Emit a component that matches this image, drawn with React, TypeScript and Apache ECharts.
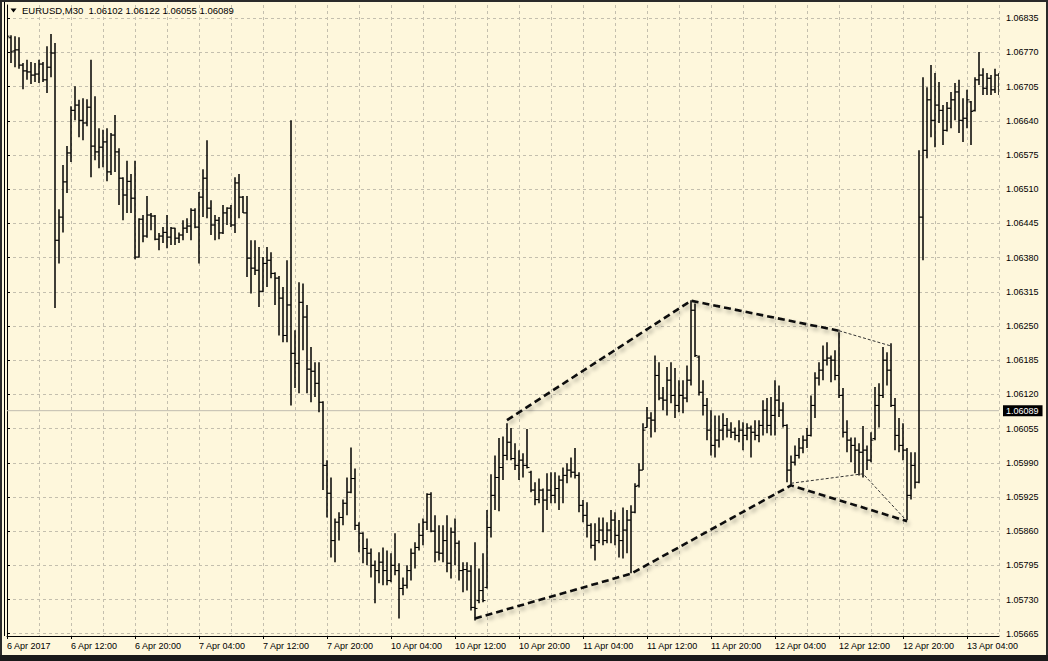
import React, { useEffect, useRef } from "react";
import * as echarts from "echarts";

// ---- data (EURUSD M30) ----
const opens = [
  1.06756, 1.06798, 1.06773, 1.06775, 1.06746, 1.06735, 1.06733, 1.06727, 1.06729, 1.06748,
  1.06718, 1.06742, 1.06769, 1.06413, 1.06457, 1.06524, 1.06579, 1.06660, 1.06670, 1.06641,
  1.06636, 1.06666, 1.06592, 1.06581, 1.06590, 1.06600, 1.06543, 1.06613, 1.06581, 1.06531,
  1.06499, 1.06525, 1.06493, 1.06381, 1.06453, 1.06421, 1.06461, 1.06459, 1.06415, 1.06421,
  1.06428, 1.06419, 1.06436, 1.06417, 1.06423, 1.06436, 1.06440, 1.06470, 1.06438, 1.06495,
  1.06531, 1.06474, 1.06442, 1.06451, 1.06427, 1.06465, 1.06474, 1.06442, 1.06522, 1.06495,
  1.06465, 1.06379, 1.06360, 1.06356, 1.06316, 1.06369, 1.06375, 1.06350, 1.06341, 1.06303,
  1.06232, 1.06290, 1.06198, 1.06179, 1.06295, 1.06267, 1.06168, 1.06164, 1.06141, 1.06105,
  1.05985, 1.05932, 1.05842, 1.05877, 1.05886, 1.05913, 1.05934, 1.05960, 1.05871, 1.05856,
  1.05827, 1.05818, 1.05795, 1.05785, 1.05801, 1.05785, 1.05766, 1.05795, 1.05785, 1.05751,
  1.05757, 1.05785, 1.05818, 1.05829, 1.05852, 1.05877, 1.05930, 1.05860, 1.05820, 1.05818,
  1.05842, 1.05799, 1.05858, 1.05837, 1.05785, 1.05787, 1.05784, 1.05715, 1.05728, 1.05747,
  1.05753, 1.05867, 1.05928, 1.05962, 1.05981, 1.06004, 1.06029, 1.05998, 1.05985, 1.05995,
  1.05985, 1.05972, 1.05938, 1.05920, 1.05938, 1.05919, 1.05938, 1.05928, 1.05941, 1.05957,
  1.05966, 1.05976, 1.05972, 1.05966, 1.05909, 1.05890, 1.05871, 1.05833, 1.05842, 1.05862,
  1.05842, 1.05862, 1.05881, 1.05852, 1.05842, 1.05862, 1.05881, 1.05896, 1.05947, 1.05976,
  1.06057, 1.06075, 1.06071, 1.06156, 1.06113, 1.06109, 1.06147, 1.06118, 1.06099, 1.06118,
  1.06113, 1.06147, 1.06280, 1.06191, 1.06124, 1.06099, 1.06052, 1.06023, 1.06033, 1.06052,
  1.06061, 1.06052, 1.06048, 1.06042, 1.06052, 1.06042, 1.06056, 1.06048, 1.06042, 1.06061,
  1.06090, 1.06061, 1.06080, 1.06109, 1.06090, 1.06061, 1.05976, 1.05991, 1.06004, 1.06018,
  1.06033, 1.06042, 1.06099, 1.06151, 1.06166, 1.06185, 1.06189, 1.06185, 1.06156, 1.06118,
  1.06048, 1.06033, 1.06023, 1.06014, 1.06010, 1.06014, 1.05995, 1.06036, 1.06099, 1.06118,
  1.06185, 1.06166, 1.06099, 1.06042, 1.06023, 1.06014, 1.05928, 1.05985, 1.05953, 1.06457,
  1.06584, 1.06680, 1.06641, 1.06670, 1.06660, 1.06622, 1.06664, 1.06680, 1.06695, 1.06641,
  1.06645, 1.06676, 1.06660, 1.06718, 1.06727, 1.06702, 1.06721, 1.06699, 1.06727,
];
const highs = [
  1.06803, 1.06803, 1.06801, 1.06799, 1.06750, 1.06756, 1.06752, 1.06750, 1.06756, 1.06752,
  1.06782, 1.06805, 1.06788, 1.06472, 1.06556, 1.06592, 1.06668, 1.06706, 1.06680, 1.06683,
  1.06681, 1.06756, 1.06687, 1.06626, 1.06623, 1.06626, 1.06617, 1.06651, 1.06588, 1.06533,
  1.06564, 1.06539, 1.06564, 1.06455, 1.06461, 1.06497, 1.06465, 1.06461, 1.06427, 1.06438,
  1.06461, 1.06438, 1.06437, 1.06428, 1.06451, 1.06455, 1.06474, 1.06474, 1.06505, 1.06548,
  1.06603, 1.06489, 1.06461, 1.06457, 1.06480, 1.06476, 1.06480, 1.06533, 1.06539, 1.06497,
  1.06497, 1.06413, 1.06413, 1.06400, 1.06381, 1.06400, 1.06390, 1.06352, 1.06345, 1.06324,
  1.06375, 1.06641, 1.06242, 1.06333, 1.06331, 1.06290, 1.06210, 1.06181, 1.06181, 1.06107,
  1.05995, 1.05962, 1.05884, 1.05896, 1.05920, 1.05962, 1.06019, 1.05979, 1.05877, 1.05858,
  1.05846, 1.05827, 1.05804, 1.05820, 1.05829, 1.05823, 1.05818, 1.05856, 1.05799, 1.05772,
  1.05795, 1.05827, 1.05839, 1.05875, 1.05884, 1.05932, 1.05934, 1.05890, 1.05871, 1.05871,
  1.05890, 1.05867, 1.05884, 1.05842, 1.05801, 1.05801, 1.05795, 1.05839, 1.05789, 1.05818,
  1.05900, 1.05968, 1.06004, 1.06037, 1.06040, 1.06065, 1.06056, 1.06027, 1.06014, 1.06008,
  1.06054, 1.05975, 1.05953, 1.05960, 1.05941, 1.05970, 1.05972, 1.05972, 1.05966, 1.05981,
  1.05989, 1.06000, 1.06018, 1.05972, 1.05919, 1.05915, 1.05875, 1.05875, 1.05886, 1.05886,
  1.05877, 1.05900, 1.05896, 1.05881, 1.05905, 1.05900, 1.05909, 1.05951, 1.05989, 1.06065,
  1.06096, 1.06086, 1.06194, 1.06181, 1.06134, 1.06172, 1.06181, 1.06170, 1.06147, 1.06147,
  1.06175, 1.06299, 1.06293, 1.06194, 1.06147, 1.06113, 1.06090, 1.06080, 1.06080, 1.06084,
  1.06075, 1.06067, 1.06057, 1.06071, 1.06067, 1.06065, 1.06061, 1.06071, 1.06071, 1.06109,
  1.06113, 1.06115, 1.06147, 1.06137, 1.06105, 1.06063, 1.06004, 1.06023, 1.06037, 1.06042,
  1.06056, 1.06118, 1.06162, 1.06181, 1.06213, 1.06219, 1.06194, 1.06204, 1.06238, 1.06132,
  1.06071, 1.06038, 1.06038, 1.06027, 1.06060, 1.06023, 1.06048, 1.06134, 1.06141, 1.06210,
  1.06200, 1.06217, 1.06113, 1.06075, 1.06065, 1.06018, 1.06010, 1.06010, 1.06584, 1.06723,
  1.06704, 1.06746, 1.06731, 1.06714, 1.06670, 1.06676, 1.06695, 1.06712, 1.06718, 1.06683,
  1.06699, 1.06678, 1.06723, 1.06771, 1.06740, 1.06731, 1.06727, 1.06739, 1.06731,
];
const lows = [
  1.06739, 1.06750, 1.06742, 1.06739, 1.06700, 1.06718, 1.06710, 1.06714, 1.06712, 1.06714,
  1.06693, 1.06723, 1.06284, 1.06369, 1.06428, 1.06503, 1.06562, 1.06641, 1.06609, 1.06603,
  1.06630, 1.06533, 1.06565, 1.06550, 1.06552, 1.06525, 1.06537, 1.06543, 1.06480, 1.06451,
  1.06465, 1.06465, 1.06377, 1.06380, 1.06409, 1.06418, 1.06432, 1.06413, 1.06394, 1.06408,
  1.06398, 1.06404, 1.06404, 1.06408, 1.06413, 1.06427, 1.06413, 1.06436, 1.06369, 1.06457,
  1.06455, 1.06423, 1.06413, 1.06415, 1.06425, 1.06442, 1.06438, 1.06427, 1.06455, 1.06465,
  1.06343, 1.06312, 1.06347, 1.06286, 1.06314, 1.06324, 1.06341, 1.06290, 1.06232, 1.06219,
  1.06219, 1.06099, 1.06132, 1.06122, 1.06204, 1.06122, 1.06105, 1.06115, 1.06086, 1.05938,
  1.05886, 1.05810, 1.05801, 1.05842, 1.05871, 1.05890, 1.05932, 1.05862, 1.05820, 1.05799,
  1.05795, 1.05772, 1.05723, 1.05761, 1.05757, 1.05757, 1.05763, 1.05776, 1.05694, 1.05738,
  1.05751, 1.05766, 1.05789, 1.05823, 1.05833, 1.05862, 1.05858, 1.05801, 1.05804, 1.05801,
  1.05782, 1.05770, 1.05795, 1.05766, 1.05744, 1.05747, 1.05709, 1.05690, 1.05723, 1.05725,
  1.05751, 1.05848, 1.05900, 1.05898, 1.05957, 1.05995, 1.05995, 1.05976, 1.05957, 1.05962,
  1.05979, 1.05934, 1.05909, 1.05913, 1.05858, 1.05900, 1.05913, 1.05913, 1.05900, 1.05913,
  1.05951, 1.05962, 1.05960, 1.05896, 1.05877, 1.05848, 1.05827, 1.05804, 1.05837, 1.05833,
  1.05837, 1.05837, 1.05833, 1.05810, 1.05808, 1.05818, 1.05780, 1.05894, 1.05943, 1.05976,
  1.06057, 1.06038, 1.06048, 1.06109, 1.06090, 1.06080, 1.06103, 1.06075, 1.06086, 1.06084,
  1.06105, 1.06137, 1.06191, 1.06118, 1.06080, 1.06033, 1.06004, 1.06000, 1.06019, 1.06033,
  1.06038, 1.06037, 1.06033, 1.06029, 1.06014, 1.06033, 1.06000, 1.06033, 1.06029, 1.06042,
  1.06046, 1.06042, 1.06042, 1.06077, 1.06057, 1.05953, 1.05947, 1.05985, 1.05998, 1.06008,
  1.06018, 1.06040, 1.06075, 1.06137, 1.06147, 1.06175, 1.06143, 1.06147, 1.06113, 1.06038,
  1.06010, 1.05991, 1.05970, 1.05966, 1.05962, 1.05976, 1.05991, 1.06033, 1.06057, 1.06113,
  1.06137, 1.06096, 1.06014, 1.06010, 1.05995, 1.05881, 1.05920, 1.05941, 1.05951, 1.06375,
  1.06569, 1.06609, 1.06590, 1.06636, 1.06594, 1.06620, 1.06626, 1.06641, 1.06617, 1.06600,
  1.06626, 1.06594, 1.06658, 1.06708, 1.06689, 1.06689, 1.06689, 1.06693, 1.06689,
];
const closes = [
  1.06801, 1.06771, 1.06775, 1.06746, 1.06735, 1.06733, 1.06727, 1.06729, 1.06748, 1.06718,
  1.06742, 1.06769, 1.06413, 1.06457, 1.06524, 1.06579, 1.06660, 1.06670, 1.06641, 1.06636,
  1.06666, 1.06592, 1.06581, 1.06590, 1.06600, 1.06543, 1.06613, 1.06581, 1.06531, 1.06499,
  1.06525, 1.06493, 1.06381, 1.06453, 1.06421, 1.06461, 1.06459, 1.06415, 1.06421, 1.06428,
  1.06419, 1.06436, 1.06417, 1.06423, 1.06436, 1.06440, 1.06470, 1.06438, 1.06495, 1.06531,
  1.06474, 1.06442, 1.06451, 1.06427, 1.06465, 1.06474, 1.06442, 1.06522, 1.06495, 1.06465,
  1.06379, 1.06360, 1.06356, 1.06316, 1.06369, 1.06375, 1.06350, 1.06341, 1.06303, 1.06232,
  1.06290, 1.06198, 1.06179, 1.06295, 1.06267, 1.06168, 1.06164, 1.06141, 1.06105, 1.05985,
  1.05932, 1.05842, 1.05877, 1.05886, 1.05913, 1.05934, 1.05960, 1.05871, 1.05856, 1.05827,
  1.05818, 1.05795, 1.05785, 1.05801, 1.05785, 1.05766, 1.05795, 1.05785, 1.05751, 1.05757,
  1.05785, 1.05818, 1.05829, 1.05852, 1.05877, 1.05930, 1.05860, 1.05820, 1.05818, 1.05842,
  1.05799, 1.05858, 1.05837, 1.05785, 1.05787, 1.05784, 1.05715, 1.05713, 1.05747, 1.05728,
  1.05867, 1.05928, 1.05962, 1.05981, 1.06004, 1.06029, 1.05998, 1.05985, 1.05995, 1.05985,
  1.05981, 1.05938, 1.05920, 1.05938, 1.05919, 1.05938, 1.05928, 1.05941, 1.05957, 1.05966,
  1.05976, 1.05972, 1.05966, 1.05909, 1.05890, 1.05871, 1.05833, 1.05842, 1.05862, 1.05842,
  1.05862, 1.05881, 1.05852, 1.05842, 1.05862, 1.05881, 1.05896, 1.05945, 1.05976, 1.06052,
  1.06075, 1.06071, 1.06156, 1.06113, 1.06109, 1.06147, 1.06118, 1.06099, 1.06118, 1.06113,
  1.06147, 1.06280, 1.06194, 1.06124, 1.06099, 1.06052, 1.06023, 1.06033, 1.06052, 1.06061,
  1.06052, 1.06048, 1.06042, 1.06052, 1.06042, 1.06056, 1.06048, 1.06042, 1.06061, 1.06090,
  1.06061, 1.06080, 1.06109, 1.06090, 1.06061, 1.05976, 1.05991, 1.06004, 1.06018, 1.06033,
  1.06042, 1.06099, 1.06151, 1.06166, 1.06185, 1.06189, 1.06185, 1.06156, 1.06118, 1.06048,
  1.06033, 1.06023, 1.06014, 1.06010, 1.06014, 1.05995, 1.06033, 1.06099, 1.06118, 1.06185,
  1.06166, 1.06099, 1.06042, 1.06023, 1.06014, 1.05928, 1.05985, 1.05953, 1.06457, 1.06584,
  1.06680, 1.06641, 1.06670, 1.06660, 1.06622, 1.06664, 1.06680, 1.06695, 1.06641, 1.06645,
  1.06680, 1.06658, 1.06718, 1.06727, 1.06702, 1.06721, 1.06699, 1.06727, 1.06706,
];

// time-axis labels, one every 16 half-hour bars
const xTickLabels = [
  "6 Apr 2017", "6 Apr 12:00", "6 Apr 20:00", "7 Apr 04:00", "7 Apr 12:00", "7 Apr 20:00",
  "10 Apr 04:00", "10 Apr 12:00", "10 Apr 20:00", "11 Apr 04:00", "11 Apr 12:00",
  "11 Apr 20:00", "12 Apr 04:00", "12 Apr 12:00", "12 Apr 20:00", "13 Apr 04:00",
];
const priceTicks = [
  1.05665, 1.0573, 1.05795, 1.0586, 1.05925, 1.0599, 1.06055, 1.0612, 1.06185, 1.0625,
  1.06315, 1.0638, 1.06445, 1.0651, 1.06575, 1.0664, 1.06705, 1.0677, 1.06835,
];
const bidPrice = 1.06089;
const headerText = "EURUSD,M30  1.06102 1.06122 1.06055 1.06089";

// hand-drawn trend lines: [bar index, price]
const upperTrend = [[125, 1.06071], [171, 1.06298], [208, 1.06241]];
const upperThin = [[208, 1.06241], [221, 1.06212]];
const lowerTrend = [[117, 1.05694], [156, 1.05779], [196, 1.05947], [225, 1.05879]];
const lowerThin = [[196, 1.05951], [214, 1.05969], [225, 1.05879]];

// axis range
const yMin = 1.0566063;
const yMax = 1.0686029;

const FONT = "'Liberation Sans', Arial, sans-serif";
const GRID_COLOR = "#c4bfae";

export default function App() {
  const ref = useRef<HTMLDivElement>(null);

  useEffect(() => {
    document.body.style.margin = "0";
    const chart = echarts.init(ref.current as HTMLDivElement, null, { renderer: "svg" });

    const bars = opens.map((o, i) => [i, o, highs[i], lows[i], closes[i]]);
    const tickIdx = xTickLabels.map((_, k) => k * 16);
    const lastIdx = opens.length - 1;
    const bidLine = [[0, bidPrice], [lastIdx, bidPrice]];

    const renderBar = (_params: any, api: any) => {
      const i = api.value(0);
      const pO = api.coord([i, api.value(1)]);
      const pH = api.coord([i, api.value(2)]);
      const pL = api.coord([i, api.value(3)]);
      const pC = api.coord([i, api.value(4)]);
      const x = pH[0];
      return {
        type: "group",
        children: [
          { type: "line", shape: { x1: x, y1: pH[1], x2: x, y2: pL[1] }, style: { stroke: "#000", lineWidth: 1.5 } },
          { type: "line", shape: { x1: x - 2.5, y1: pO[1], x2: x, y2: pO[1] }, style: { stroke: "#000", lineWidth: 1 } },
          { type: "line", shape: { x1: x, y1: pC[1], x2: x + 2.5, y2: pC[1] }, style: { stroke: "#000", lineWidth: 1 } },
        ],
      };
    };

    const thickStyle = {
      color: "#111",
      width: 2.6,
      type: [7, 4] as any,
      shadowColor: "rgba(0,0,0,0.35)",
      shadowBlur: 4,
      shadowOffsetX: 2,
      shadowOffsetY: 3,
    };
    const thinStyle = { color: "#333", width: 1, type: [3, 2] as any };

    const option: any = {
      animation: false,
      backgroundColor: "#FEF7DC",
      grid: { left: 7, right: 49, top: 5, bottom: 25, containLabel: false, outerBoundsMode: "none" },
      xAxis: [
        {
          type: "value",
          min: 0,
          max: lastIdx,
          interval: 8,
          position: "bottom",
          axisLine: { show: true, lineStyle: { color: "#000", width: 1 } },
          axisTick: { show: false },
          splitLine: { show: true, lineStyle: { color: GRID_COLOR, type: [3, 3], width: 1 } },
          axisLabel: {
            show: true,
            align: "left",
            margin: 5,
            fontSize: 9,
            color: "#000",
            fontFamily: FONT,
            showMinLabel: true,
            showMaxLabel: true,
            formatter: (v: number) => {
              const r = Math.round(v);
              return r % 16 === 0 && xTickLabels[r / 16] ? xTickLabels[r / 16] : "";
            },
          },
        },
        {
          type: "value",
          min: 0,
          max: lastIdx,
          interval: 16,
          position: "bottom",
          axisLine: { show: false },
          axisTick: { show: true, length: 3, customValues: tickIdx, lineStyle: { color: "#000" } },
          axisLabel: { show: false },
          splitLine: { show: false },
        },
      ],
      yAxis: {
        type: "value",
        position: "right",
        offset: 2,
        min: yMin,
        max: yMax,
        axisLine: { show: true, lineStyle: { color: "#000", width: 1 } },
        axisTick: { show: true, length: 3, customValues: priceTicks, lineStyle: { color: "#000" } },
        axisLabel: {
          show: true,
          customValues: priceTicks,
          margin: 5,
          fontSize: 9,
          color: "#000",
          fontFamily: FONT,
          formatter: (v: number) => v.toFixed(5),
        },
        splitLine: { show: true, lineStyle: { color: GRID_COLOR, type: [3, 3], width: 1 } },
      },
      series: [
        {
          type: "line",
          name: "bid",
          xAxisIndex: 0,
          data: bidLine,
          symbol: "none",
          silent: true,
          lineStyle: { color: "#c0bcb0", type: "solid", width: 1 },
          z: 2,
          endLabel: {
            show: true,
            distance: 4,
            formatter: () => bidPrice.toFixed(5),
            backgroundColor: "#000",
            color: "#fff",
            padding: [1, 4, 1, 3],
            fontSize: 9,
            fontFamily: FONT,
          },
        },
        {
          type: "custom",
          name: "EURUSD",
          xAxisIndex: 0,
          renderItem: renderBar,
          data: bars,
          encode: { x: 0, y: [1, 2, 3, 4] },
          clip: true,
          silent: true,
          z: 3,
        },
        { type: "line", xAxisIndex: 0, data: lowerThin, symbol: "none", silent: true, lineStyle: thinStyle, z: 4 },
        { type: "line", xAxisIndex: 0, data: upperThin, symbol: "none", silent: true, lineStyle: thinStyle, z: 4 },
        { type: "line", xAxisIndex: 0, data: upperTrend, symbol: "none", silent: true, lineStyle: thickStyle, z: 5 },
        { type: "line", xAxisIndex: 0, data: lowerTrend, symbol: "none", silent: true, lineStyle: thickStyle, z: 5 },
      ],
      graphic: [
        {
          type: "polygon",
          shape: { points: [[10.5, 8.5], [16.5, 8.5], [13.5, 12.5]] },
          style: { fill: "#000" },
          z: 100,
        },
        {
          type: "text",
          x: 22,
          y: 10.5,
          style: { text: headerText, fill: "#000", font: `9.5px ${FONT}`, verticalAlign: "middle" },
          z: 100,
        },
        {
          type: "rect",
          shape: { x: 1, y: 1, width: 1046, height: 659 },
          style: { fill: "none", stroke: "#2a2a2a", lineWidth: 2 },
          z: 100,
        },
        {
          type: "rect",
          shape: { x: 0, y: 655, width: 1048, height: 6 },
          style: { fill: "#1a1a1a" },
          z: 100,
        },
        {
          type: "line",
          shape: { x1: 4.5, y1: 2, x2: 4.5, y2: 636 },
          style: { stroke: "#000", lineWidth: 1 },
          z: 100,
        },
      ],
    };

    chart.setOption(option);
    return () => chart.dispose();
  }, []);

  return (
    <div
      ref={ref}
      style={{ position: "fixed", left: 0, top: 0, width: 1048, height: 661 }}
    />
  );
}
